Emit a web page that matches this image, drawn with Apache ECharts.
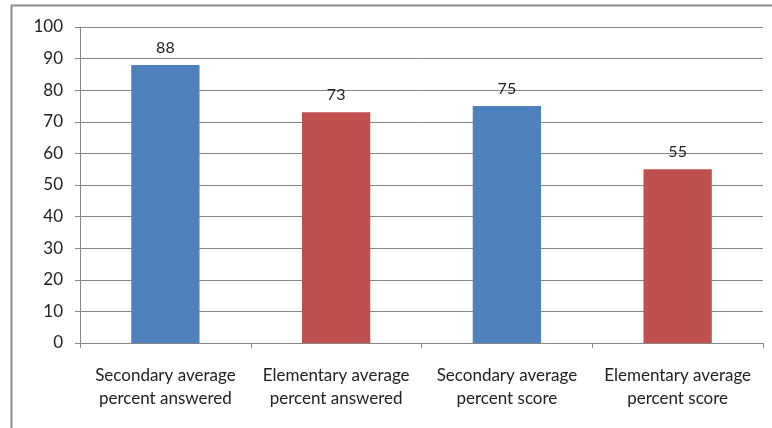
<!DOCTYPE html>
<html>
<head>
<meta charset="utf-8">
<script src="https://cdn.jsdelivr.net/npm/echarts@6/dist/echarts.min.js"></script>
<style>
  html, body { margin: 0; padding: 0; background: #fff; }
  #chart { width: 772px; height: 428px; }
</style>
</head>
<body>
<div id="chart"></div>
<script>
// chart data
const categories = [
  'Secondary average\npercent answered',
  'Elementary average\npercent answered',
  'Secondary average\npercent score',
  'Elementary average\npercent score'
]
const values = [88, 73, 75, 55]
const barColors = ['#4F81BD', '#C0504D', '#4F81BD', '#C0504D']

const chart = echarts.init(document.getElementById('chart'))
const font = 'Lato, "Open Sans", sans-serif'

const option = {
  backgroundColor: '#fff',
  animation: false,
  textStyle: { fontFamily: font },
  graphic: [
    {
      // outer frame of the chart area
      type: 'rect',
      shape: { x: 11.5, y: 5.5, width: 800, height: 500 },
      style: { fill: 'none', stroke: '#8c8c8c', lineWidth: 2 },
      silent: true
    }
  ],
  grid: { left: 80, right: 9, top: 27, bottom: 85 },
  xAxis: {
    type: 'category',
    data: categories,
    axisLine: { lineStyle: { color: '#868686' } },
    axisTick: { show: true, interval: 0, length: 5, lineStyle: { color: '#868686' } },
    axisLabel: {
      interval: 0,
      hideOverlap: false,
      color: '#222',
      fontSize: 17,
      lineHeight: 23,
      margin: 21,
      fontFamily: font
    }
  },
  yAxis: {
    type: 'value',
    min: 0,
    max: 100,
    interval: 10,
    axisLine: { show: true, lineStyle: { color: '#868686' } },
    axisTick: { show: true, length: 5, lineStyle: { color: '#868686' } },
    splitLine: { lineStyle: { color: '#868686' } },
    axisLabel: { color: '#222', fontSize: 17, margin: 17, fontFamily: font }
  },
  series: [
    {
      type: 'bar',
      barWidth: '40%',
      data: values.map((v, i) => ({ value: v, itemStyle: { color: barColors[i] } })),
      label: {
        show: true,
        position: 'top',
        distance: 9,
        color: '#222',
        fontSize: 16,
        fontFamily: font
      }
    }
  ]
}

chart.setOption(option)
</script>
</body>
</html>
